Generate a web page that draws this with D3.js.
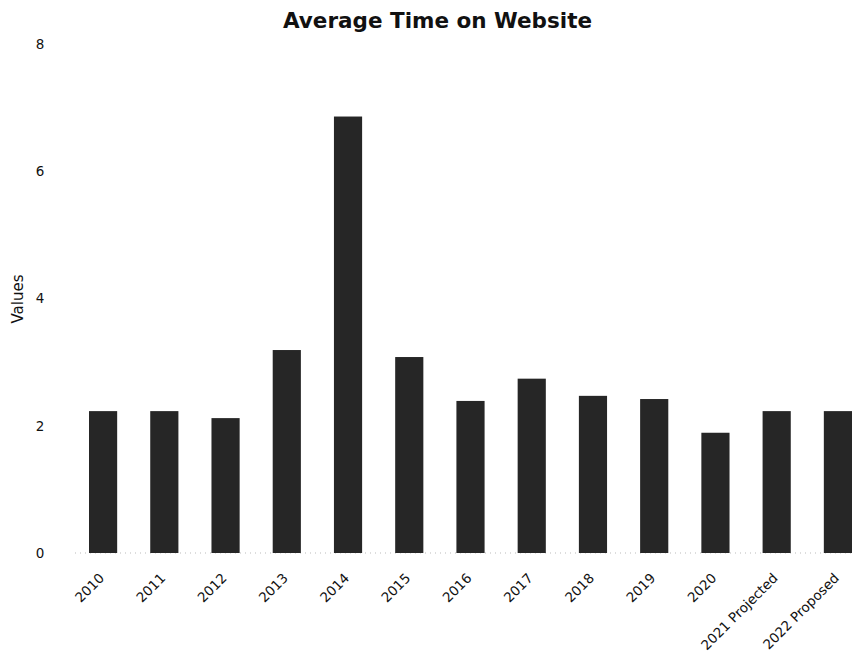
<!DOCTYPE html>
<html>
<head>
<meta charset="utf-8">
<script src="https://cdn.jsdelivr.net/npm/d3@7"></script>
<style>
  html, body { margin: 0; padding: 0; background: #fff; }
  svg { display: block; }
  text { font-family: "DejaVu Sans", sans-serif; fill: #111; }
</style>
</head>
<body>
<script>
const categories = ["2010","2011","2012","2013","2014","2015","2016","2017","2018","2019","2020","2021 Projected","2022 Proposed"];
const values = [2.23, 2.23, 2.12, 3.19, 6.86, 3.08, 2.39, 2.74, 2.47, 2.42, 1.89, 2.23, 2.23];
const yTicks = [0, 2, 4, 6, 8];
const title = "Average Time on Website";
const yLabel = "Values";

const W = 853, H = 658;
const svg = d3.select("body").append("svg").attr("width", W).attr("height", H);

const x = d3.scaleBand().domain(categories).range([89, 852]).paddingInner(0.54).paddingOuter(0);
const y = d3.scaleLinear().domain([0, 8]).range([553, 44]);

// baseline (faint dotted)
svg.append("line")
  .attr("x1", 75).attr("x2", 852)
  .attr("y1", y(0)).attr("y2", y(0))
  .attr("stroke", "#bbb").attr("stroke-width", 1).attr("stroke-dasharray", "1,4");

svg.append("g").selectAll("rect").data(values).join("rect")
  .attr("x", (d, i) => x(categories[i]))
  .attr("y", d => y(d))
  .attr("width", x.bandwidth())
  .attr("height", d => y(0) - y(d))
  .attr("fill", "#262626");

// y axis
const yAxis = svg.append("g").attr("transform", "translate(46,0)")
  .call(d3.axisLeft(y).tickValues(yTicks).tickSize(0).tickPadding(0));
yAxis.select(".domain").remove();
yAxis.selectAll("text").attr("font-size", 13.5).attr("text-anchor", "middle").attr("dx", -6)
  .style("font-family", "'DejaVu Sans', sans-serif").attr("fill", "#111");

// x axis
const xAxis = svg.append("g").attr("transform", `translate(0,${y(0)})`)
  .call(d3.axisBottom(x).tickSize(0).tickPadding(0));
xAxis.select(".domain").remove();
xAxis.selectAll("text")
  .attr("font-size", 13.5)
  .style("font-family", "'DejaVu Sans', sans-serif")
  .attr("fill", "#111")
  .attr("text-anchor", "end")
  .attr("dy", 0)
  .attr("transform", "translate(2,26) rotate(-45)");

// title
svg.append("text").attr("x", 437.5).attr("y", 28).attr("text-anchor", "middle")
  .attr("font-size", 21.5).attr("font-weight", 700).text(title);

// y label
svg.append("text").attr("transform", "translate(23,299) rotate(-90)")
  .attr("text-anchor", "middle").attr("font-size", 15).text(yLabel);
</script>
</body>
</html>
